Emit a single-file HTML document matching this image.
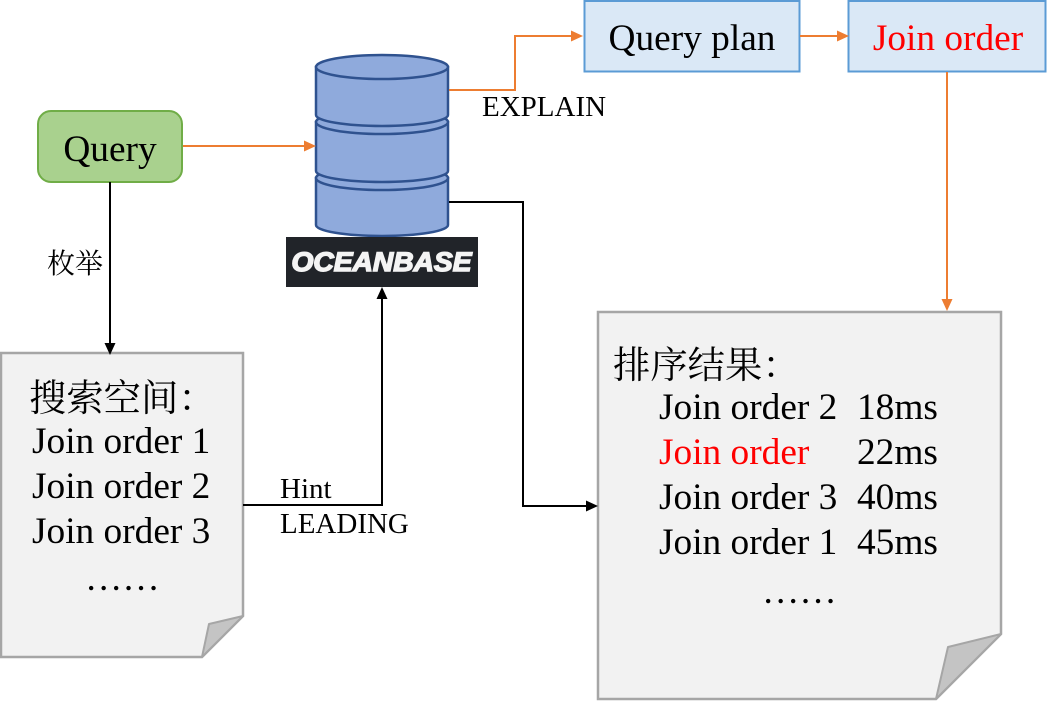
<!DOCTYPE html>
<html><head><meta charset="utf-8"><style>
html,body{margin:0;padding:0;background:#fff}
svg{display:block}
text{font-family:"Liberation Serif","Noto Serif CJK SC",serif;fill:#000}
</style></head><body>
<svg width="1048" height="701" viewBox="0 0 1048 701" xmlns="http://www.w3.org/2000/svg">
<!-- Query -->
<rect x="38" y="111" width="144" height="71" rx="13" fill="#a9d18e" stroke="#70ad47" stroke-width="2"/>
<text x="110" y="161" font-size="37.33" text-anchor="middle">Query</text>
<!-- Plan boxes -->
<rect x="584.500" y="1" width="215" height="70.500" fill="#dae8f6" stroke="#5b9bd5" stroke-width="2"/>
<text x="692" y="50" font-size="37.33" text-anchor="middle">Query plan</text>
<rect x="848.500" y="1" width="197" height="70.500" fill="#dae8f6" stroke="#5b9bd5" stroke-width="2"/>
<text x="948" y="50" font-size="37.33" text-anchor="middle" style="fill:#ff0000">Join order</text>
<!-- Database -->
<g fill="#8faadc" stroke="#2f528f" stroke-width="2.500">
<path d="M316 178V225A66 11 0 0 0 448 225V178z"/>
<ellipse cx="382" cy="178" rx="66" ry="12"/>
<path d="M316 122V171A66 11 0 0 0 448 171V122z"/>
<ellipse cx="382" cy="122" rx="66" ry="12"/>
<path d="M316 67V115A66 11 0 0 0 448 115V67z"/>
<ellipse cx="382" cy="67" rx="66" ry="12"/>
</g>
<!-- Logo -->
<rect x="286" y="237" width="192" height="50" fill="#212429"/>
<text x="381.500" y="271" font-size="27" font-weight="bold" font-style="italic" text-anchor="middle" textLength="180" lengthAdjust="spacingAndGlyphs" style="font-family:'Liberation Sans',sans-serif;fill:#f4f4f4;stroke:#f4f4f4;stroke-width:1.5">OCEANBASE</text>
<!-- Documents -->
<path d="M1 353H243V616L202 657H1Z" fill="#f2f2f2" stroke="#a6a6a6" stroke-width="2.500"/>
<path d="M243 616L209 624L202 657Z" fill="#c4c4c4" stroke="#a6a6a6" stroke-width="2" stroke-linejoin="round"/>
<path d="M598 312H1001V634L936 699H598Z" fill="#f2f2f2" stroke="#a6a6a6" stroke-width="2.500"/>
<path d="M1001 634L948 647L936 699Z" fill="#c4c4c4" stroke="#a6a6a6" stroke-width="2" stroke-linejoin="round"/>
<!-- Orange connectors -->
<g fill="none" stroke="#ed7d31" stroke-width="2">
<path d="M183 146H306"/>
<path d="M449 90H515V36H572"/>
<path d="M800 36H838"/>
<path d="M947 72V300"/>
</g>
<g fill="#ed7d31">
<path d="M316 146L304 140.500V151.500Z"/>
<path d="M583 36L571 30.500V41.500Z"/>
<path d="M849 36L837 30.500V41.500Z"/>
<path d="M947 311L941.500 299H952.500Z"/>
</g>
<!-- Black connectors -->
<g fill="none" stroke="#000" stroke-width="2">
<path d="M110 182V344"/>
<path d="M243 505H382V297"/>
<path d="M449 202H523V506H588"/>
</g>
<g fill="#000">
<path d="M110 355L104.500 343H115.500Z"/>
<path d="M382 287L376.500 299H387.500Z"/>
<path d="M598 506L586 500.500V511.500Z"/>
</g>
<!-- Labels -->
<text x="47" y="273" font-size="28">枚举</text>
<text x="482" y="116" font-size="29">EXPLAIN</text>
<text x="280" y="498" font-size="29">Hint</text>
<text x="280" y="533" font-size="29">LEADING</text>
<!-- Left doc text -->
<text x="29" y="411" font-size="37.33">搜索空间：</text>
<text x="32" y="453" font-size="37.33">Join order 1</text>
<text x="32" y="498" font-size="37.33">Join order 2</text>
<text x="32" y="543" font-size="37.33">Join order 3</text>
<text x="85" y="590" font-size="37.33">……</text>
<!-- Right doc text -->
<text x="613" y="378" font-size="37.33">排序结果：</text>
<text x="659" y="419" font-size="37.33">Join order 2</text><text x="857" y="419" font-size="37.33">18ms</text>
<text x="659" y="464" font-size="37.33" style="fill:#ff0000">Join order</text><text x="857" y="464" font-size="37.33">22ms</text>
<text x="659" y="509" font-size="37.33">Join order 3</text><text x="857" y="509" font-size="37.33">40ms</text>
<text x="659" y="554" font-size="37.33">Join order 1</text><text x="857" y="554" font-size="37.33">45ms</text>
<text x="762" y="603" font-size="37.33">……</text>
</svg>
</body></html>
